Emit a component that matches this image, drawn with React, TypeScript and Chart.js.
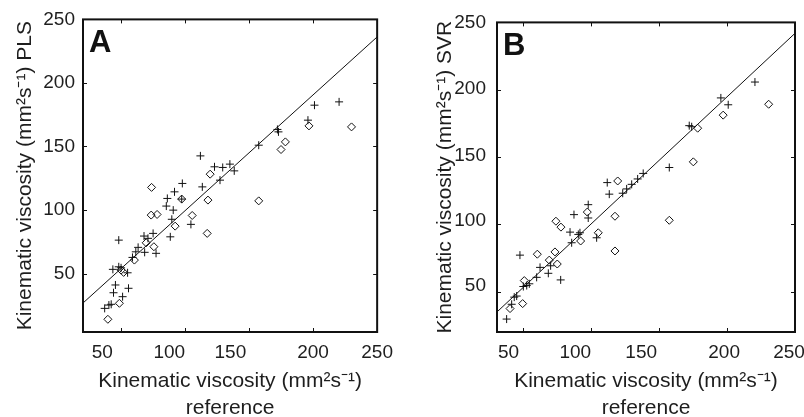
import React, { useEffect, useRef } from "react";
import Chart from "chart.js/auto";

// ---------- data ----------
const TICK_VALUES = [50, 100, 150, 200, 250];
const TICK_LABELS = ["50", "100", "150", "200", "250"];

// where each tick label is printed (the reference prints some labels off their tick)
const PLS_X_LABEL_AT = [35.5, 87.8, 135.5, 200, 250];
const PLS_Y_LABEL_AT = [50, 100, 150, 200, 250];
const SVR_X_LABEL_AT = [39, 88.2, 136.7, 197.8, 245.6];
const SVR_Y_LABEL_AT = [54, 102.5, 151, 200.5, 250];

// Panel A: PLS predictions, calibration (+) and validation (diamond)
const PLS_CAL_X = [98.0, 113.6, 91.9, 86.3, 97.5, 85.5, 90.9, 89.8, 127.4, 138.5, 104.7, 88.6, 48.4, 68.1, 71.2, 75.2, 63.5, 61.7, 59.1, 68.6, 77.5, 43.8, 48.4, 50.2, 55.3, 45.8, 44.3, 56.0, 51.4, 37.4, 40.7, 42.5, 112.1, 123.1, 129.5, 135.1, 157.6, 172.2, 173.0, 196.0, 201.1, 220.3];
const PLS_CAL_Y = [120.9, 118.2, 114.3, 109.1, 108.6, 103.1, 99.9, 92.7, 123.5, 130.8, 88.7, 78.9, 76.3, 79.5, 77.7, 81.6, 70.6, 67.1, 62.7, 66.7, 65.9, 53.3, 55.3, 54.5, 50.6, 41.0, 34.9, 38.4, 31.8, 22.6, 25.2, 25.8, 142.6, 134.0, 133.5, 136.1, 151.0, 163.4, 161.5, 170.7, 182.5, 185.1];
const PLS_VAL_X = [74.0, 73.7, 78.3, 97.5, 105.7, 118.0, 119.7, 157.6, 117.4, 92.4, 69.8, 75.8, 60.6, 50.2, 52.2, 48.9, 39.9, 175.0, 178.4, 196.8, 230.0];
const PLS_VAL_Y = [117.8, 96.0, 96.5, 108.6, 95.7, 107.8, 128.2, 107.2, 81.6, 87.3, 74.2, 71.1, 60.6, 52.7, 50.9, 26.6, 14.0, 147.6, 153.6, 166.2, 165.4];
const PLS_FIT_X = [20.5, 250];
const PLS_FIT_Y = [26.8, 236.2];

// Panel B: SVR predictions
const SVR_CAL_X = [37.6, 41.3, 43.2, 45.0, 49.9, 52.4, 54.3, 47.4, 62.2, 59.7, 68.3, 70.0, 77.4, 85.5, 84.3, 87.2, 90.4, 91.6, 97.7, 97.7, 103.9, 111.7, 113.2, 123.1, 126.0, 129.7, 134.1, 138.2, 157.4, 172.1, 173.9, 195.4, 200.8, 220.5];
const SVR_CAL_Y = [29.6, 40.6, 45.9, 46.7, 53.8, 54.5, 55.8, 77.1, 68.0, 60.6, 63.6, 69.2, 58.7, 86.3, 94.2, 107.2, 92.5, 93.7, 114.6, 104.7, 90.0, 131.0, 122.4, 123.1, 126.3, 129.7, 133.7, 137.8, 142.2, 173.3, 172.5, 193.9, 188.8, 205.7];
const SVR_VAL_X = [40.1, 49.4, 50.6, 60.2, 69.0, 73.2, 74.9, 73.9, 77.6, 92.1, 97.0, 105.1, 117.4, 117.4, 119.4, 157.4, 175.1, 178.3, 197.1, 230.6];
const SVR_VAL_Y = [37.4, 41.1, 58.2, 77.8, 73.4, 79.5, 70.5, 102.3, 97.9, 87.6, 109.1, 93.7, 106.0, 80.2, 132.2, 103.0, 146.4, 171.4, 181.1, 189.2];
const SVR_FIT_X = [30.5, 250];
const SVR_FIT_Y = [34.9, 241.9];

const X_TITLE = ["Kinematic viscosity (mm\u00B2s\u207B\u00B9)", "reference"];
const PLS_Y_TITLE = "Kinematic viscosity (mm\u00B2s\u207B\u00B9) PLS";
const SVR_Y_TITLE = "Kinematic viscosity (mm\u00B2s\u207B\u00B9) SVR";

// ---------- styling ----------
const FONT = "'Liberation Sans', Arial, Helvetica, sans-serif";
const TEXT = "#1e1e1e";
const INK = "#111111";

const pts = (xs: number[], ys: number[]) => xs.map((x, i) => ({ x, y: ys[i] }));

const framePlugin = {
  id: "frame",
  afterDatasetsDraw(chart: any, _args: any, opts: any) {
    const { ctx, chartArea: a, scales } = chart;
    ctx.save();
    ctx.strokeStyle = INK;
    ctx.lineWidth = 1;
    const L = 4;
    const seg = (x1: number, y1: number, x2: number, y2: number) => {
      ctx.beginPath();
      ctx.moveTo(x1, y1);
      ctx.lineTo(x2, y2);
      ctx.stroke();
    };
    for (const v of TICK_VALUES) {
      const x = Math.round(scales.x.getPixelForValue(v)) + 0.5;
      if (x > a.left + 1 && x < a.right - 1) {
        seg(x, a.bottom, x, a.bottom - L);
        seg(x, a.top, x, a.top + L);
      }
      const y = Math.round(scales.y.getPixelForValue(v)) + 0.5;
      if (y > a.top + 1 && y < a.bottom - 1) {
        seg(a.left, y, a.left + L, y);
        seg(a.right, y, a.right - L, y);
      }
    }
    ctx.lineWidth = 2;
    ctx.strokeRect(a.left, a.top, a.right - a.left, a.bottom - a.top);
    ctx.fillStyle = INK;
    ctx.font = `bold 31px ${FONT}`;
    ctx.textBaseline = "alphabetic";
    ctx.textAlign = "left";
    ctx.fillText(opts.letter, a.left + 6, a.top + 33);
    ctx.restore();
  },
};

type PanelProps = {
  left: number;
  width: number;
  yAxisWidth: number;
  padRight: number;
  letter: string;
  yTitle: string;
  yTitlePad: number;
  yTickPad: number;
  xMin: number;
  yMin: number;
  xLabelAt: number[];
  yLabelAt: number[];
  calX: number[];
  calY: number[];
  valX: number[];
  valY: number[];
  fitX: number[];
  fitY: number[];
};

function Panel(p: PanelProps) {
  const ref = useRef<HTMLCanvasElement | null>(null);
  useEffect(() => {
    if (!ref.current) return;
    const chart = new Chart(ref.current, {
      type: "scatter",
      data: {
        datasets: [
          {
            data: pts(p.valX, p.valY),
            pointStyle: "rectRot",
            pointRadius: 4,
            borderColor: INK,
            backgroundColor: "rgba(0,0,0,0)",
            borderWidth: 1,
          },
          {
            data: pts(p.calX, p.calY),
            pointStyle: "cross",
            pointRadius: 4,
            borderColor: INK,
            backgroundColor: INK,
            borderWidth: 1,
          },
          {
            data: pts(p.fitX, p.fitY),
            showLine: true,
            pointRadius: 0,
            borderColor: INK,
            borderWidth: 1,
            fill: false,
          },
        ],
      } as any,
      options: {
        animation: false,
        responsive: false,
        devicePixelRatio: 1,
        events: [],
        layout: { padding: { top: 19, right: p.padRight, bottom: 0, left: 0 } },
        plugins: {
          legend: { display: false },
          tooltip: { enabled: false },
          frame: { letter: p.letter },
        } as any,
        scales: {
          x: {
            type: "linear",
            position: "bottom",
            min: p.xMin,
            max: 250,
            grid: { display: false, drawTicks: false, tickLength: 0 },
            border: { display: false },
            afterBuildTicks: (s: any) => {
              s.ticks = p.xLabelAt.map((v) => ({ value: v }));
            },
            afterFit: (s: any) => {
              s.height = 85;
            },
            ticks: {
              autoSkip: false,
              maxRotation: 0,
              padding: 9,
              color: TEXT,
              font: { family: FONT, size: 19 },
              callback: (_v: any, i: number) => TICK_LABELS[i],
            },
            title: {
              display: true,
              text: X_TITLE,
              color: TEXT,
              font: { family: FONT, size: 21, lineHeight: 1.286 },
              padding: { top: 0, bottom: -4.5 },
            },
          },
          y: {
            type: "linear",
            position: "left",
            min: p.yMin,
            max: 250,
            grid: { display: false, drawTicks: false, tickLength: 0 },
            border: { display: false },
            afterBuildTicks: (s: any) => {
              s.ticks = p.yLabelAt.map((v) => ({ value: v }));
            },
            afterFit: (s: any) => {
              s.width = p.yAxisWidth;
            },
            ticks: {
              autoSkip: false,
              padding: p.yTickPad,
              color: TEXT,
              font: { family: FONT, size: 19 },
              callback: (_v: any, i: number) => TICK_LABELS[i],
            },
            title: {
              display: true,
              text: p.yTitle,
              color: TEXT,
              font: { family: FONT, size: 21, lineHeight: 1.2 },
              padding: { top: p.yTitlePad, bottom: 0 },
            },
          },
        },
      } as any,
      plugins: [framePlugin as any],
    });
    return () => chart.destroy();
  }, []);
  return (
    <div style={{ position: "absolute", left: p.left, top: 0, width: p.width, height: 417 }}>
      <canvas ref={ref} width={p.width} height={417} style={{ display: "block" }} />
    </div>
  );
}

export default function App() {
  return (
    <div
      style={{
        position: "absolute",
        left: 0,
        top: 0,
        width: 804,
        height: 417,
        overflow: "hidden",
        background: "#ffffff",
      }}
    >
      <Panel
        left={0}
        width={402}
        yAxisWidth={83}
        padRight={20}
        letter="A"
        yTitle={PLS_Y_TITLE}
        yTitlePad={13}
        yTickPad={8}
        xMin={20.5}
        yMin={4}
        xLabelAt={PLS_X_LABEL_AT}
        yLabelAt={PLS_Y_LABEL_AT}
        calX={PLS_CAL_X}
        calY={PLS_CAL_Y}
        valX={PLS_VAL_X}
        valY={PLS_VAL_Y}
        fitX={PLS_FIT_X}
        fitY={PLS_FIT_Y}
      />
      <Panel
        left={402}
        width={430}
        yAxisWidth={95}
        padRight={37}
        letter="B"
        yTitle={SVR_Y_TITLE}
        yTitlePad={31}
        yTickPad={11}
        xMin={30.5}
        yMin={20}
        xLabelAt={SVR_X_LABEL_AT}
        yLabelAt={SVR_Y_LABEL_AT}
        calX={SVR_CAL_X}
        calY={SVR_CAL_Y}
        valX={SVR_VAL_X}
        valY={SVR_VAL_Y}
        fitX={SVR_FIT_X}
        fitY={SVR_FIT_Y}
      />
    </div>
  );
}
